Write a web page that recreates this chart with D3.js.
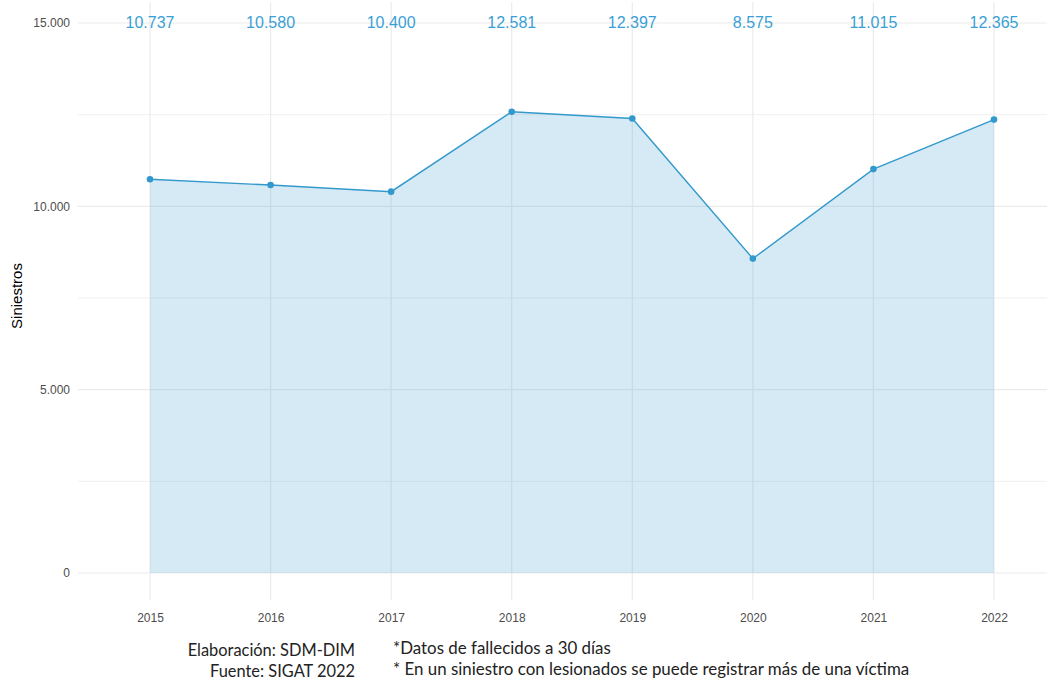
<!DOCTYPE html>
<html>
<head>
<meta charset="utf-8">
<script src="https://cdn.jsdelivr.net/npm/d3@7"></script>
<style>
  body { margin: 0; background: #fff; }
  svg { display: block; }
</style>
</head>
<body>
<div id="graph"></div>
<script>
const years = ['2015', '2016', '2017', '2018', '2019', '2020', '2021', '2022'];
const siniestros = [10737, 10580, 10400, 12581, 12397, 8575, 11015, 12365];
const yTicks = [0, 5000, 10000, 15000];
const yMinor = [2500, 7500, 12500];
const notesLeft = ['Elaboración: SDM-DIM', 'Fuente: SIGAT 2022'];
const notesRight = ['*Datos de fallecidos a 30 días', '* En un siniestro con lesionados se puede registrar más de una víctima'];

const width = 1047, height = 681;
const panel = { left: 78, top: 2, bottom: 600 };
const lineColor = '#3399cc';
const axisFont = "'Liberation Sans', Arial, sans-serif";

const es = d3.formatLocale({ decimal: ',', thousands: '.', grouping: [3], currency: ['$', ''] });
const fmt = es.format(',');

let svg = d3.select('#graph').append('svg')
  .attr('width', width)
  .attr('height', height);

const xScale = d3.scalePoint()
  .domain(years)
  .range([150, 994]);

const yScale = d3.scaleLinear()
  .domain([0, 15000])
  .range([573, 23]);

// grid
const grid = svg.append('g');
grid.selectAll('.minor').data(yMinor).enter().append('line')
  .attr('x1', panel.left).attr('x2', width)
  .attr('y1', d => yScale(d)).attr('y2', d => yScale(d))
  .attr('stroke', '#f0f0f0').attr('stroke-width', 1);
grid.selectAll('.major').data(yTicks).enter().append('line')
  .attr('x1', panel.left).attr('x2', width)
  .attr('y1', d => yScale(d)).attr('y2', d => yScale(d))
  .attr('stroke', '#ebebeb').attr('stroke-width', 1.2);
grid.selectAll('.vert').data(years).enter().append('line')
  .attr('x1', d => xScale(d)).attr('x2', d => xScale(d))
  .attr('y1', panel.top).attr('y2', panel.bottom)
  .attr('stroke', '#ebebeb').attr('stroke-width', 1.2);

const data = years.map((y, i) => ({ year: y, value: siniestros[i] }));

const area = d3.area()
  .x(d => xScale(d.year))
  .y0(yScale(0))
  .y1(d => yScale(d.value));

svg.append('path')
  .datum(data)
  .attr('d', area)
  .attr('fill', 'rgba(52,152,210,0.2)');

const line = d3.line()
  .x(d => xScale(d.year))
  .y(d => yScale(d.value));

svg.append('path')
  .datum(data)
  .attr('d', line)
  .attr('fill', 'none')
  .attr('stroke', lineColor)
  .attr('stroke-width', 1.4);

svg.selectAll('.dot').data(data).enter().append('circle')
  .attr('cx', d => xScale(d.year))
  .attr('cy', d => yScale(d.value))
  .attr('r', 3.3)
  .attr('fill', lineColor);

// value labels on top
svg.selectAll('.vlabel').data(data).enter().append('text')
  .attr('x', d => xScale(d.year))
  .attr('y', 28)
  .attr('text-anchor', 'middle')
  .style('font-family', axisFont)
  .style('font-size', '16px')
  .attr('fill', '#3a9fd6')
  .text(d => fmt(d.value));

// axes
const yAxis = d3.axisLeft(yScale).tickValues(yTicks).tickSize(0).tickPadding(8)
  .tickFormat(fmt);
const yg = svg.append('g').attr('transform', 'translate(' + panel.left + ',0)').call(yAxis);
yg.select('.domain').remove();
yg.selectAll('text')
  .style('font-family', axisFont)
  .style('font-size', '12px')
  .attr('fill', '#4d4d4d');

const xAxis = d3.axisBottom(xScale).tickSize(0).tickPadding(13);
const xg = svg.append('g').attr('transform', 'translate(0,' + panel.bottom + ')').call(xAxis);
xg.select('.domain').remove();
xg.selectAll('text')
  .style('font-family', axisFont)
  .style('font-size', '12px')
  .attr('fill', '#4d4d4d');

svg.append('text')
  .attr('transform', 'translate(22,296) rotate(-90)')
  .attr('text-anchor', 'middle')
  .style('font-family', axisFont)
  .style('font-size', '15px')
  .attr('fill', '#000')
  .text('Siniestros');

// footer notes
svg.selectAll('.noteL').data(notesLeft).enter().append('text')
  .attr('x', 355)
  .attr('y', (d, i) => 656 + i * 21)
  .attr('text-anchor', 'end')
  .style('font-family', 'Lato, sans-serif')
  .style('font-size', '16.4px')
  .attr('fill', '#222')
  .text(d => d);

svg.selectAll('.noteR').data(notesRight).enter().append('text')
  .attr('x', 393)
  .attr('y', (d, i) => 654 + i * 21)
  .style('font-family', 'Lato, sans-serif')
  .style('font-size', '16.9px')
  .attr('fill', '#222')
  .text(d => d);
</script>
</body>
</html>
